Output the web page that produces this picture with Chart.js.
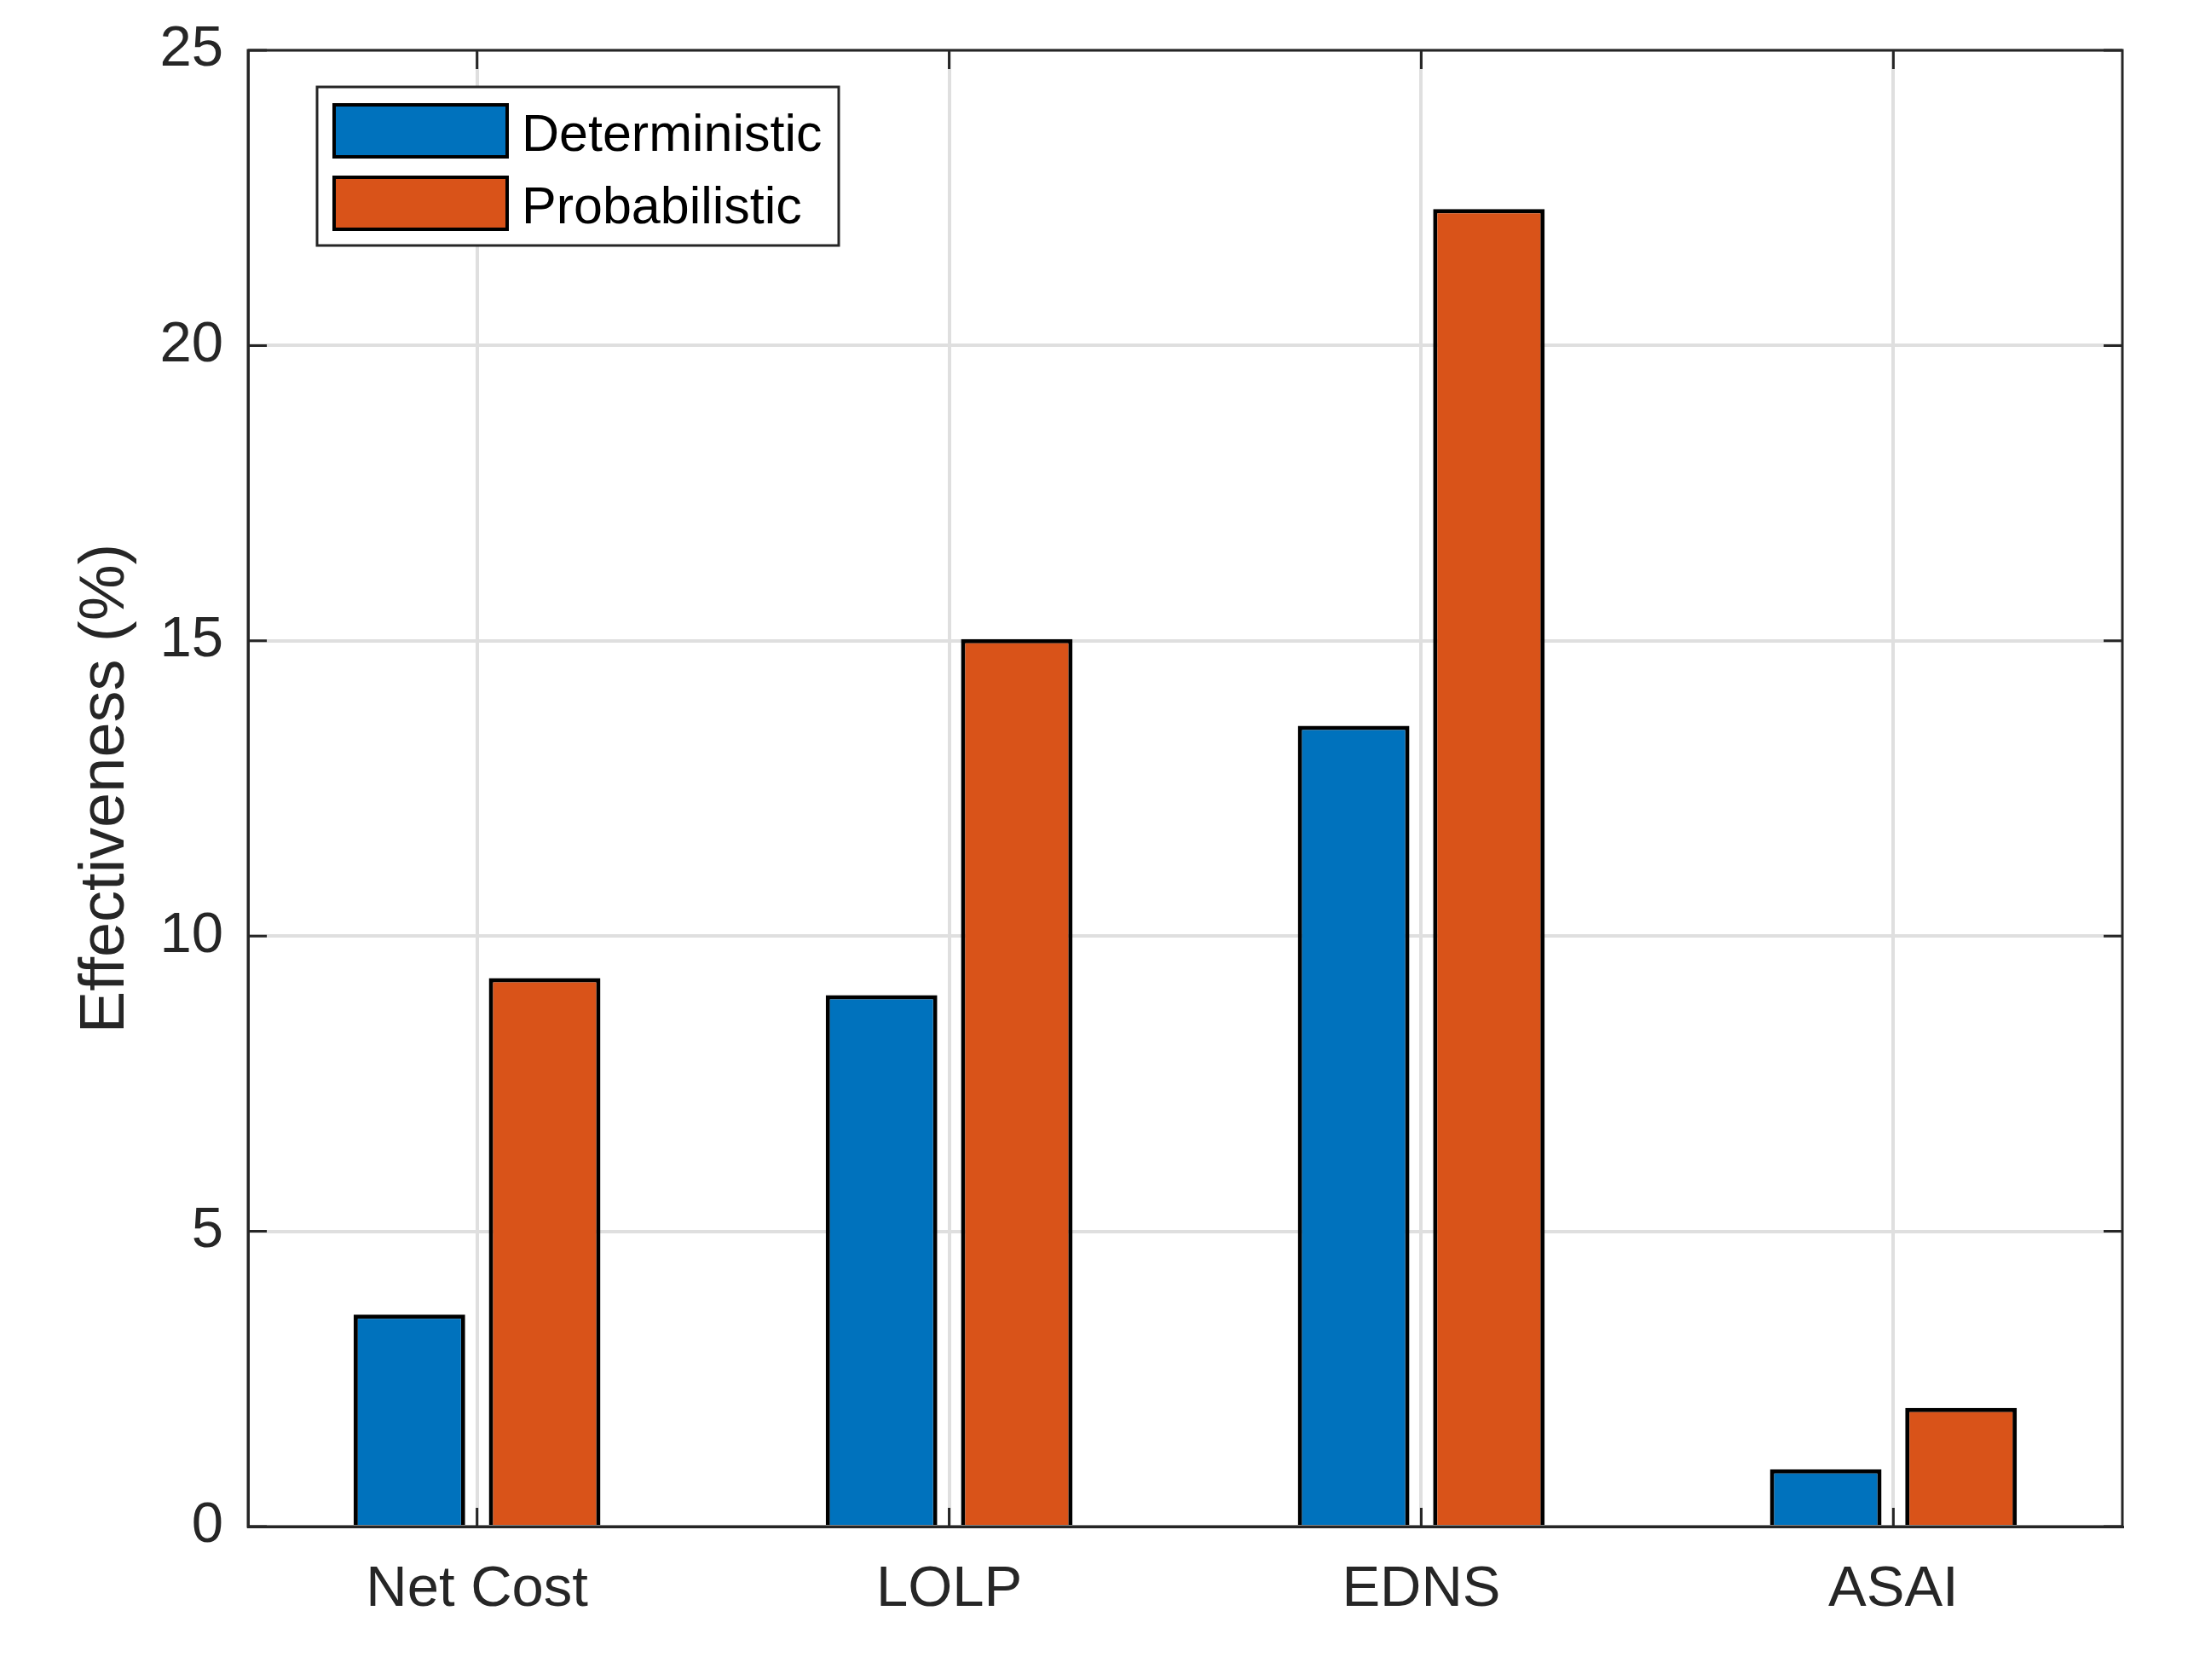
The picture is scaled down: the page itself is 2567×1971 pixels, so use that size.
<!DOCTYPE html>
<html>
<head>
<meta charset="utf-8">
<script src="https://cdn.jsdelivr.net/npm/chart.js@4.4.1/dist/chart.umd.min.js"></script>
<style>
  html, body { margin: 0; padding: 0; background: #fff; }
  #wrap { width: 2567px; height: 1971px; }
</style>
</head>
<body>
<div id="wrap"><canvas id="myChart"></canvas></div>
<script>
const categories = ["Net Cost", "LOLP", "EDNS", "ASAI"];
const deterministic = [3.59, 9.0, 13.56, 0.97];
const probabilistic = [9.29, 15.03, 22.31, 2.01];
const yTicks = [0, 5, 10, 15, 20, 25];
const seriesNames = ["Deterministic", "Probabilistic"];
const seriesColors = ["#0072BD", "#D95319"];

const axisColor = "#262626";
const gridColor = "#dfdfdf";
const fontFamily = "'Liberation Sans', Arial, Helvetica, sans-serif";

// bars sit at x = 1..4 on a linear axis, like MATLAB's bar()
const toPoints = (vals) => vals.map((v, i) => ({ x: i + 1, y: v }));

// MATLAB-style box, inward ticks and the framed legend
const framePlugin = {
  id: "frame",
  afterDraw(chart) {
    const ctx = chart.ctx;
    const a = chart.chartArea;
    const xs = chart.scales.x;
    const ys = chart.scales.y;
    const tick = 22;
    ctx.save();
    ctx.strokeStyle = axisColor;
    ctx.lineWidth = 3;
    ctx.beginPath();
    yTicks.forEach((v) => {
      const y = ys.getPixelForValue(v);
      ctx.moveTo(a.left, y); ctx.lineTo(a.left + tick, y);
      ctx.moveTo(a.right, y); ctx.lineTo(a.right - tick, y);
    });
    categories.forEach((c, i) => {
      const x = xs.getPixelForValue(i + 1);
      ctx.moveTo(x, a.bottom); ctx.lineTo(x, a.bottom - tick);
      ctx.moveTo(x, a.top); ctx.lineTo(x, a.top + tick);
    });
    ctx.stroke();
    ctx.strokeRect(a.left, a.top, a.right - a.left, a.bottom - a.top);

    // legend
    const lx = 372, ly = 102, lw = 612, lh = 186;
    ctx.fillStyle = "#fff";
    ctx.fillRect(lx, ly, lw, lh);
    ctx.strokeRect(lx, ly, lw, lh);
    ctx.font = "61px " + fontFamily;
    ctx.textBaseline = "middle";
    chart.data.datasets.forEach((ds, i) => {
      const sy = 123 + i * 85;
      ctx.fillStyle = ds.backgroundColor;
      ctx.fillRect(392, sy, 203, 61);
      ctx.strokeStyle = "#000";
      ctx.lineWidth = 4;
      ctx.strokeRect(392, sy, 203, 61);
      ctx.fillStyle = "#000";
      ctx.fillText(ds.label, 612, sy + 37);
    });
    ctx.restore();
  }
};

new Chart("myChart", {
  type: "bar",
  data: {
    datasets: [
      { label: seriesNames[0], data: toPoints(deterministic), backgroundColor: seriesColors[0] },
      { label: seriesNames[1], data: toPoints(probabilistic), backgroundColor: seriesColors[1] }
    ]
  },
  options: {
    responsive: true,
    maintainAspectRatio: false,
    devicePixelRatio: 1,
    animation: false,
    layout: { padding: { top: 59, right: 77, left: 0, bottom: 0 } },
    datasets: {
      bar: {
        categoryPercentage: 0.573,
        barPercentage: 0.825,
        borderColor: "#000",
        borderWidth: 5
      }
    },
    plugins: {
      legend: { display: false },
      tooltip: { enabled: false }
    },
    scales: {
      x: {
        type: "linear",
        min: 0.515,
        max: 4.485,
        offset: false,
        afterBuildTicks: (s) => { s.ticks = categories.map((c, i) => ({ value: i + 1 })); },
        grid: { offset: false, color: gridColor, lineWidth: 4, drawTicks: false },
        border: { color: axisColor, width: 3 },
        ticks: {
          color: axisColor,
          padding: 34,
          maxRotation: 0,
          autoSkip: false,
          font: { family: fontFamily, size: 67 },
          callback: (v) => categories[Math.round(v) - 1]
        },
        afterFit: (s) => { s.height = 180; s.paddingLeft = 0; s.paddingRight = 0; }
      },
      y: {
        min: 0,
        max: 25,
        afterBuildTicks: (s) => { s.ticks = yTicks.map((v) => ({ value: v })); },
        grid: { color: gridColor, lineWidth: 4, drawTicks: false },
        border: { color: axisColor, width: 3 },
        ticks: {
          color: axisColor,
          padding: 29,
          font: { family: fontFamily, size: 67 }
        },
        title: {
          display: true,
          text: "Effectiveness (%)",
          color: axisColor,
          font: { family: fontFamily, size: 74 },
          padding: { top: 80, bottom: 0 }
        },
        afterFit: (s) => { s.width = 291; s.paddingTop = 0; s.paddingBottom = 0; }
      }
    }
  },
  plugins: [framePlugin]
});
</script>
</body>
</html>
